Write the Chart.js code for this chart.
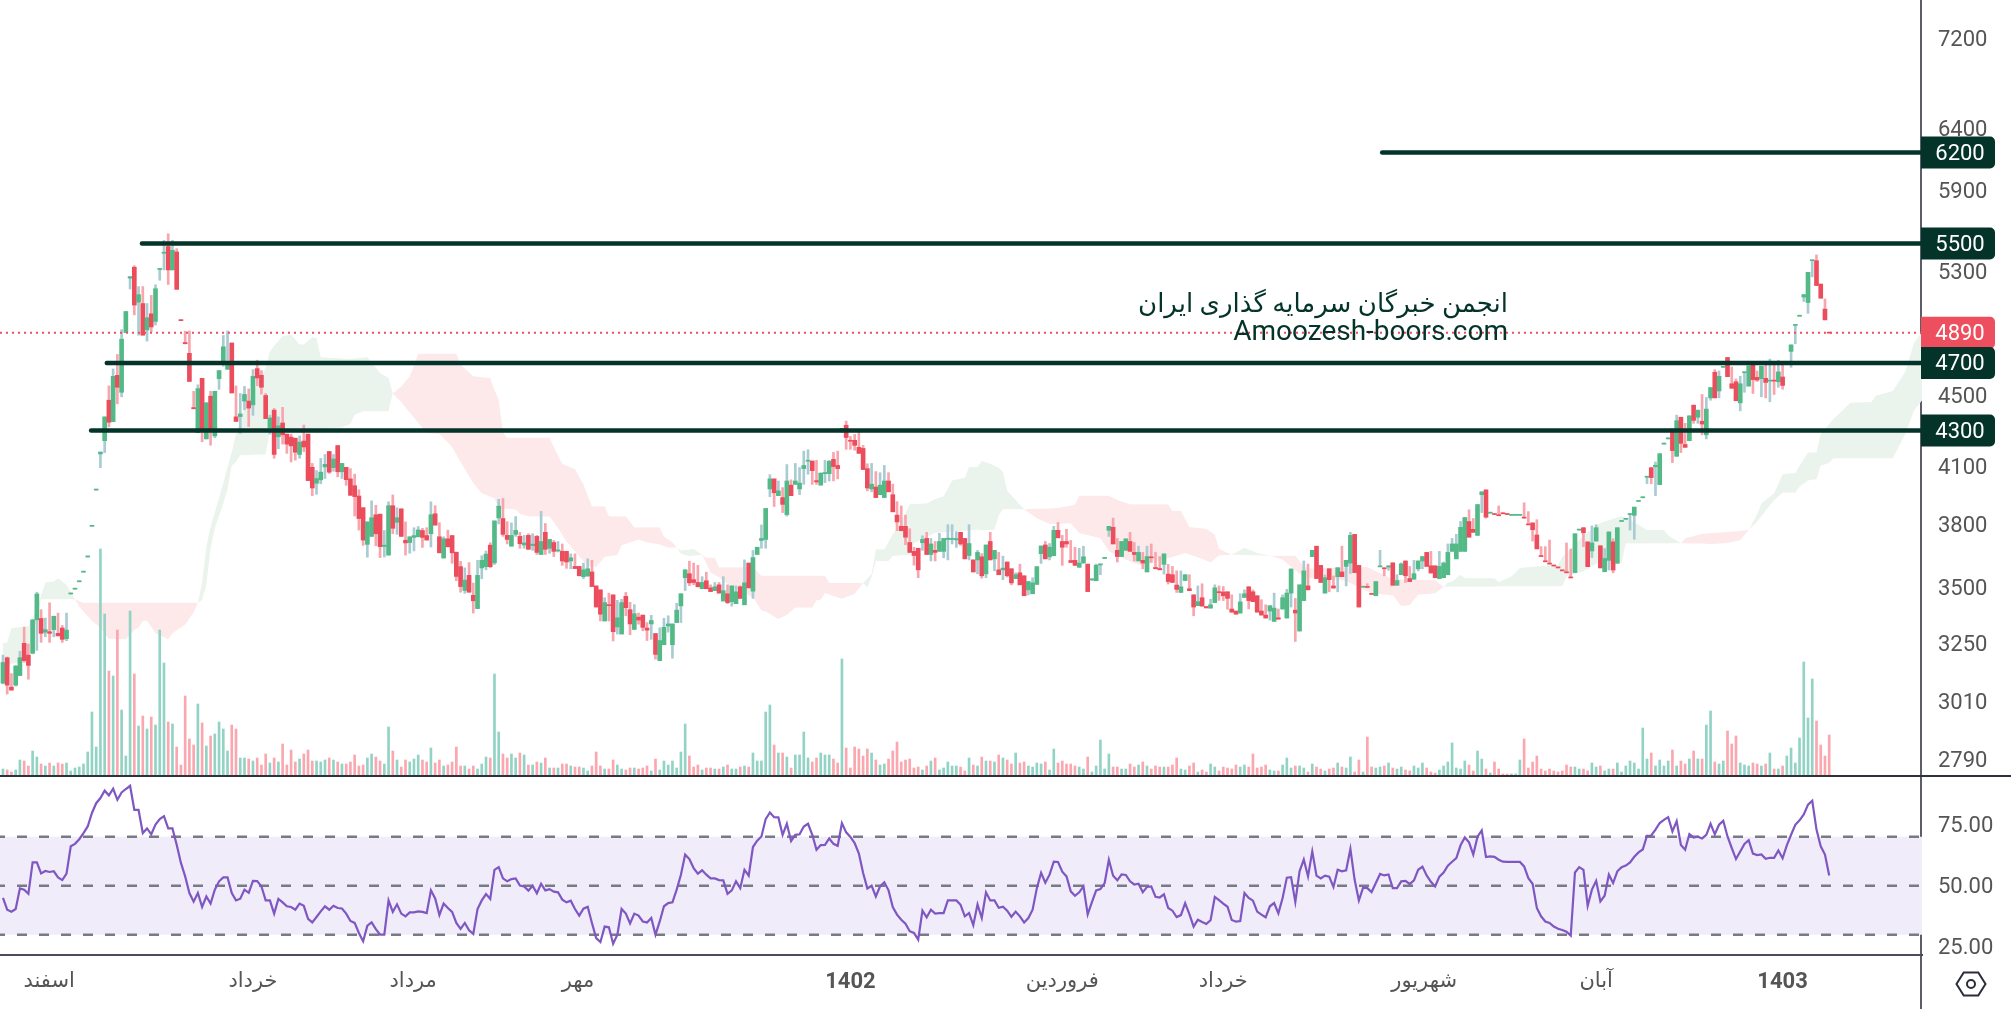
<!DOCTYPE html>
<html lang="fa"><head><meta charset="utf-8">
<script src="https://cdn.jsdelivr.net/npm/chart.js@4"></script>
<style>
html,body{margin:0;padding:0;background:#fff;width:2011px;height:1009px;overflow:hidden}
canvas{position:absolute;left:0}
.rule{position:absolute}
</style></head><body>
<div class="rule" style="left:1920px;top:0;width:2px;height:1009px;background:#5b5e68"></div>
<div class="rule" style="left:0;top:775px;width:2011px;height:2px;background:#2f323c"></div>
<canvas id="main" width="2011" height="775" style="top:0"></canvas>
<canvas id="rsi" width="2011" height="232" style="top:777px"></canvas>
<script>
const opens=[3084,3189,3068,3076,3115,3250,3200,3208,3352,3358,3298,3300,3309,3293,3316,3270,
3468,3490,3524,3569,3641,3791,3976,4170,4243,4475,4351,4624,4522,4892,5255,5331,5091,5082,4909,5014,4964,5315,5430,5478,5312,5439,4973,4828,4760,4432,4288,4606,4253,4499,4270,4604,4705,4661,4825,4378,4380,4470,4470,4448,4665,4624,4503,4315,4417,4265,4343,4280,4263,4257,4167,4241,4280,4097,4012,4030,4099,4183,4095,4216,4073,4097,4035,3999,3945,3885,3702,3741,3849,3852,3692,3650,3895,3811,3879,3722,3711,3736,3739,3770,3745,3754,3854,3739,3636,3729,3745,3664,3595,3484,3554,3462,3402,3589,3595,3698,3613,3833,
3830,3746,3693,3751,3741,3699,3746,3696,3741,3653,3761,3683,3711,3670,3668,3668,3622,3596,3596,3548,3552,3570,3505,3487,3347,3419,3464,3321,3290,3457,3397,3310,3364,3373,3316,3334,3292,3177,3244,3325,3244,3340,3414,3543,3562,3534,3521,3492,3529,3496,3483,3510,3436,3469,3433,3424,3501,3419,3612,3481,3653,3721,3726,3982,4035,3947,3937,3850,4002,4006,3982,4090,4130,4131,4026,4002,4063,4063,4140,4107,4305,4330,4245,4245,4206,4200,4090,3982,3992,3952,3937,4024,3952,3847,3791,3791,3711,3668,3683,3710,3731,3653,3673,3668,3668,3726,3726,3724,3761,3731,3648,3627,3627,3642,3561,3716,3632,3580,
3580,3617,3585,3539,3566,3552,3487,3469,3512,3657,3699,3642,3647,3771,3716,3716,3624,3625,3592,3612,3607,3532,3529,3603,3634,3771,3786,3673,3643,3673,3716,3663,3622,3625,3570,3641,3591,3586,3606,3560,3557,3509,3475,3530,3492,3464,3415,3451,3411,3404,3429,3478,3477,3478,3400,3391,3382,3452,3501,3478,3460,3391,3373,3391,3345,3361,3400,3360,3472,3395,3303,3438,3505,3643,3693,3601,3472,3585,3505,3548,3570,3596,3612,3751,3601,3499,3502,3469,3460,3594,3589,3593,3613,3508,3557,3622,3539,3536,3585,3622,3663,3599,3599,3539,3543,3557,3668,3632,3668,3668,3815,3776,3746,3952,3977,3857,3854,3847,
3858,3852,3846,3846,3846,3836,3802,3808,3748,3647,3622,3611,3602,3593,3579,3570,3546,3567,3772,3784,3714,3670,3718,3695,3571,3625,3714,3611,3815,3826,3850,3846,3917,3936,4044,4095,4100,4005,4224,4253,4308,4157,4376,4222,4243,4446,4376,4353,4276,4489,4643,4530,4673,4734,4573,4585,4460,4640,4559,4690,4612,4604,4606,4589,4593,4585,4614,4702,4772,4938,4998,5126,5089,5377,5377,5214,5045,4892];
const closes=[3169,3076,3056,3154,3189,3177,3157,3352,3468,3293,3309,3293,3368,3282,3267,3307,
3470,3492,3526,3571,3643,3793,3978,4180,4378,4347,4618,4552,4849,5029,5265,5072,5142,4875,4988,4928,5182,5322,5436,5312,5451,5178,4969,4820,4587,4425,4544,4298,4460,4306,4528,4653,4801,4710,4518,4352,4395,4509,4429,4618,4608,4552,4368,4372,4167,4327,4276,4224,4214,4179,4235,4208,4026,3987,4037,4071,4113,4071,4142,4073,4118,4031,3949,3942,3830,3723,3813,3834,3754,3691,3698,3895,3781,3834,3741,3709,3739,3745,3773,3736,3723,3849,3797,3661,3729,3690,3661,3549,3502,3532,3476,3437,3554,3625,3655,3595,3818,3893,
3751,3726,3746,3771,3705,3709,3678,3703,3663,3716,3678,3726,3668,3675,3622,3617,3637,3586,3552,3580,3585,3502,3409,3377,3429,3415,3300,3361,3429,3406,3334,3379,3351,3319,3307,3349,3203,3262,3319,3334,3334,3395,3469,3580,3519,3521,3501,3521,3492,3479,3501,3472,3483,3429,3505,3478,3448,3519,3496,3638,3688,3731,3881,4035,3962,3972,3902,4024,3947,4024,4013,4107,4135,4079,4019,4066,4069,4129,4101,4090,4312,4261,4240,4217,4173,4085,3987,4007,3937,4002,4024,3967,3864,3813,3769,3737,3663,3648,3580,3726,3653,3704,3663,3716,3731,3732,3731,3730,3704,3632,3706,3570,3663,3552,3699,3627,3673,3557,
3588,3552,3519,3557,3510,3460,3525,3519,3595,3694,3632,3688,3771,3734,3688,3704,3615,3601,3612,3642,3479,3538,3602,3608,3639,3791,3704,3643,3716,3729,3668,3653,3663,3612,3643,3637,3585,3580,3656,3525,3521,3489,3501,3557,3483,3409,3433,3413,3405,3419,3496,3474,3460,3448,3386,3377,3432,3469,3438,3433,3386,3373,3360,3415,3404,3355,3451,3472,3584,3382,3510,3575,3487,3673,3539,3521,3543,3534,3495,3590,3548,3625,3746,3567,3409,3503,3498,3466,3525,3598,3585,3599,3508,3530,3608,3552,3525,3562,3622,3643,3596,3565,3543,3596,3612,3663,3704,3704,3786,3835,3737,3761,3901,3967,3837,3860,3850,3844,
3854,3850,3849,3849,3849,3832,3798,3774,3680,3643,3618,3607,3598,3589,3575,3566,3542,3754,3776,3759,3595,3709,3784,3589,3634,3763,3579,3784,3819,3830,3855,3888,3921,3941,4048,4042,4108,4171,4228,4257,4188,4356,4228,4206,4384,4358,4417,4337,4423,4550,4489,4618,4678,4616,4546,4472,4573,4645,4682,4598,4595,4680,4581,4593,4589,4645,4563,4707,4813,4942,5002,5142,5295,5380,5204,5118,4974,4888];
const highs=[3200,3192,3123,3157,3216,3320,3247,3352,3476,3397,3360,3428,3368,3382,3327,3382,
3470,3492,3526,3571,3643,3793,3978,4180,4378,4560,4663,4753,4911,5029,5265,5341,5197,5197,5082,5137,5209,5322,5523,5571,5523,5463,4973,4900,4902,4528,4567,4606,4460,4528,4528,4653,4873,4902,4825,4560,4515,4557,4542,4659,4717,4653,4515,4388,4427,4378,4433,4280,4280,4257,4270,4331,4280,4118,4080,4145,4167,4183,4167,4216,4118,4097,4090,4060,3978,3885,3813,3920,3897,3852,3770,3915,3951,3885,3879,3813,3739,3784,3790,3781,3784,3915,3895,3809,3739,3772,3745,3664,3620,3589,3614,3518,3625,3647,3670,3710,3818,3928,
3932,3814,3808,3840,3761,3746,3754,3754,3746,3866,3805,3726,3721,3716,3704,3668,3656,3656,3596,3612,3632,3625,3505,3487,3451,3472,3464,3439,3444,3475,3430,3420,3382,3373,3340,3372,3292,3317,3359,3370,3334,3426,3469,3580,3621,3612,3601,3548,3569,3510,3521,3521,3548,3510,3505,3505,3505,3627,3612,3672,3688,3798,3881,4057,4035,4024,3989,4112,4030,4118,4096,4185,4193,4131,4135,4066,4135,4135,4178,4185,4312,4354,4267,4278,4289,4217,4116,4118,4074,4068,4107,4068,4007,3916,3894,3847,3779,3688,3683,3744,3761,3731,3716,3756,3731,3799,3799,3764,3761,3731,3799,3627,3673,3657,3699,3761,3673,3663,
3645,3617,3585,3566,3607,3552,3525,3543,3595,3694,3716,3706,3791,3810,3746,3776,3721,3688,3683,3693,3607,3538,3607,3608,3639,3791,3832,3731,3716,3729,3761,3711,3693,3663,3693,3704,3663,3643,3656,3606,3596,3575,3575,3557,3557,3464,3505,3515,3411,3444,3510,3505,3502,3478,3464,3391,3469,3487,3501,3487,3460,3442,3419,3415,3472,3400,3464,3489,3584,3448,3510,3622,3607,3673,3693,3601,3556,3585,3551,3590,3693,3625,3761,3751,3601,3503,3515,3469,3525,3673,3589,3599,3613,3557,3613,3622,3596,3625,3622,3643,3663,3668,3599,3668,3617,3704,3731,3751,3815,3835,3874,3830,3901,3967,3977,3860,3854,3894,
3858,3852,3849,3849,3849,3910,3865,3808,3824,3691,3691,3723,3602,3593,3579,3709,3679,3754,3776,3784,3714,3793,3799,3695,3682,3763,3729,3784,3819,3830,3855,3888,3921,3941,4048,4095,4126,4171,4228,4257,4308,4388,4376,4341,4384,4446,4417,4509,4491,4550,4659,4651,4678,4734,4675,4602,4618,4645,4682,4690,4651,4680,4690,4724,4700,4717,4690,4707,4813,4942,5002,5142,5295,5380,5418,5214,5113,4892];
const lows=[3081,3040,3056,3072,3115,3170,3100,3205,3220,3254,3278,3254,3278,3282,3254,3261,
3468,3490,3524,3569,3641,3791,3976,4095,4177,4321,4351,4454,4495,4892,5180,5007,4875,4875,4837,4897,4940,5240,5312,5211,5312,5178,4969,4820,4587,4425,4288,4237,4253,4218,4260,4540,4680,4661,4518,4352,4284,4419,4323,4387,4561,4511,4368,4280,4146,4198,4224,4173,4126,4136,4146,4183,4026,3947,3954,4009,4037,4064,4076,4046,4037,4001,3947,3843,3772,3697,3640,3741,3695,3638,3641,3650,3754,3751,3741,3650,3659,3670,3739,3687,3723,3689,3797,3661,3636,3690,3611,3529,3476,3471,3476,3382,3402,3538,3580,3590,3605,3803,
3741,3704,3693,3741,3683,3683,3678,3673,3653,3653,3653,3659,3643,3665,3601,3587,3585,3586,3552,3539,3548,3502,3409,3347,3347,3347,3260,3290,3290,3370,3287,3310,3333,3304,3262,3267,3183,3177,3244,3298,3187,3340,3340,3484,3506,3510,3501,3492,3492,3479,3483,3472,3436,3424,3413,3424,3448,3419,3496,3448,3653,3683,3683,3942,3891,3947,3860,3842,3947,4006,3952,4006,4060,4006,4006,4002,4015,4024,4024,4035,4290,4195,4195,4190,4173,4085,3972,3967,3937,3952,3937,3967,3864,3769,3769,3700,3663,3602,3543,3673,3653,3622,3622,3668,3637,3627,3704,3687,3697,3632,3627,3570,3561,3541,3543,3627,3575,3557,
3534,3546,3510,3539,3510,3460,3464,3469,3512,3610,3632,3627,3647,3734,3601,3688,3615,3601,3592,3612,3479,3532,3529,3557,3634,3741,3704,3617,3643,3673,3668,3622,3622,3585,3570,3615,3585,3580,3560,3514,3521,3475,3475,3530,3483,3370,3415,3413,3405,3404,3429,3439,3438,3399,3386,3377,3382,3452,3400,3433,3386,3373,3360,3351,3345,3355,3400,3360,3409,3258,3303,3438,3487,3643,3539,3521,3472,3478,3495,3478,3548,3505,3563,3567,3409,3499,3498,3466,3460,3594,3552,3578,3508,3508,3557,3521,3525,3536,3575,3585,3596,3565,3543,3539,3543,3557,3668,3632,3668,3668,3737,3761,3746,3860,3832,3857,3850,3844,
3854,3850,3846,3846,3846,3832,3798,3718,3680,3643,3618,3607,3598,3589,3575,3566,3542,3567,3772,3691,3595,3638,3718,3589,3571,3579,3566,3611,3815,3826,3772,3727,3917,3936,4010,4010,3947,4005,4224,4253,4122,4157,4177,4206,4243,4341,4341,4276,4253,4475,4489,4489,4673,4616,4546,4472,4413,4522,4559,4515,4587,4495,4489,4466,4509,4552,4540,4702,4673,4820,4998,5096,5017,5264,5204,5118,4974,4888];
const volumes=[6,5,3,5,15,14,9,24,18,11,9,12,9,12,11,12,4,7,8,11,23,63,28,226,161,104,99,145,65,19,164,101,49,59,46,58,50,145,112,53,51,28,10,79,36,30,71,52,29,39,41,53,46,24,50,46,17,17,16,14,17,10,21,12,17,13,31,10,25,13,16,21,25,14,14,13,15,17,15,13,11,11,13,20,9,10,17,21,18,14,11,48,24,15,8,15,13,16,20,15,13,27,12,15,9,10,13,28,9,9,6,9,6,11,18,17,101,43,
21,17,21,17,22,20,10,10,13,12,17,7,7,7,11,11,9,8,8,7,4,9,23,9,6,6,15,10,6,5,7,7,6,7,9,4,16,5,14,10,14,7,23,51,19,8,10,5,7,7,6,6,8,10,6,6,8,9,8,22,14,14,63,70,30,22,22,18,7,20,20,43,17,13,17,22,20,20,16,12,116,27,7,28,26,19,26,22,15,10,11,16,24,33,13,15,16,7,8,5,9,14,17,5,7,13,9,9,8,4,17,10,9,18,14,14,13,20,
17,15,11,22,12,13,9,8,12,11,13,5,26,12,14,11,11,9,8,6,18,3,9,35,6,21,8,8,6,6,11,8,10,13,9,6,9,8,8,8,10,17,6,5,9,12,3,5,3,11,8,4,8,7,6,10,8,10,8,21,7,8,10,5,4,4,10,17,7,9,9,7,3,11,8,6,4,6,7,12,8,7,18,3,15,3,38,8,7,8,9,12,7,6,8,5,4,9,7,12,7,3,2,5,9,13,32,7,6,14,10,4,24,16,6,2,13,6,
1,1,1,1,15,36,7,13,19,6,4,6,4,3,4,10,8,8,6,6,4,12,8,9,4,6,6,12,3,9,14,12,6,47,16,22,9,15,9,14,25,9,14,11,16,24,16,16,50,64,13,11,14,44,31,39,12,10,9,12,11,9,11,22,6,6,9,19,27,12,37,113,57,96,54,30,19,40];
const rsiValues=[45.0,40.2,39.4,40.5,48.9,48.4,46.7,59.5,59.5,55.0,56.0,55.6,55.9,53.4,52.3,54.9,66.1,67.1,69.0,71.5,74.2,79.7,83.7,85.8,88.8,86.9,89.6,85.1,88.1,89.5,90.8,81.0,81.0,71.5,73.4,71.0,75.0,77.2,78.4,73.4,73.4,66.7,59.3,53.8,47.0,43.5,47.0,41.3,45.6,42.7,48.4,51.8,53.4,53.4,47.0,44.0,44.7,48.4,47.1,52.0,51.9,49.7,44.0,44.0,38.6,44.6,43.2,41.6,41.3,40.2,42.7,41.8,36.5,35.0,37.2,39.5,41.6,40.2,41.8,40.9,40.7,38.6,35.6,34.8,30.7,27.3,33.7,35.0,32.3,30.0,30.0,44.0,39.3,42.4,38.6,37.5,39.1,39.1,39.5,39.3,38.8,48.1,44.8,38.0,42.7,40.9,39.3,34.8,32.4,34.8,31.8,
30.3,40.5,44.0,46.6,44.6,56.5,57.6,53.0,51.8,52.7,53.0,50.1,49.7,48.0,50.0,46.9,50.8,48.1,48.6,47.6,47.3,44.3,43.2,43.9,40.5,37.8,40.6,41.4,34.8,28.6,27.0,33.3,33.0,26.3,30.0,40.5,38.6,34.6,38.6,37.8,35.4,35.0,36.8,30.0,35.4,41.6,42.9,43.2,48.4,54.5,62.7,60.9,57.2,54.9,56.3,54.5,53.0,53.0,52.3,52.2,46.7,48.1,51.8,49.0,56.5,54.1,65.8,68.4,70.1,77.2,79.9,78.0,77.9,70.8,75.3,68.2,70.8,71.0,74.2,75.3,70.8,64.7,66.6,66.7,69.3,67.1,66.3,75.6,71.8,69.9,67.4,63.1,55.2,48.9,50.0,45.6,49.7,51.4,48.1,41.3,38.2,36.1,34.5,31.4,30.7,28.0,39.8,37.1,40.2,38.6,
38.8,38.8,44.0,44.0,44.0,42.2,37.5,38.8,33.9,42.4,36.8,47.3,44.0,44.0,41.0,41.4,39.8,37.3,39.4,37.5,35.0,36.8,40.2,49.0,55.3,51.2,54.5,59.8,59.7,55.7,53.8,47.7,45.9,47.3,49.7,38.3,43.3,48.1,48.6,51.1,60.6,54.1,52.2,54.6,54.4,51.8,50.5,50.8,47.3,49.5,49.7,45.5,45.2,46.5,40.9,39.8,37.2,38.0,42.9,38.4,33.3,36.1,35.2,34.4,35.9,45.4,44.1,42.7,41.4,36.0,35.3,35.6,47.0,45.0,43.9,39.4,38.2,37.1,41.6,42.9,38.7,45.0,53.3,53.5,43.3,55.9,60.7,53.8,64.0,54.1,53.0,54.1,53.7,49.5,56.5,55.9,56.3,65.0,52.4,44.0,49.2,49.0,47.4,51.1,54.8,54.2,54.6,49.0,49.0,51.8,
52.0,50.7,52.2,56.5,57.8,54.2,51.6,49.7,53.7,55.4,58.2,59.8,61.3,66.5,69.7,67.7,62.7,70.0,72.6,61.7,62.0,61.8,60.6,59.8,59.7,59.7,59.7,59.7,57.9,53.1,50.8,40.9,37.5,35.4,34.8,33.3,32.4,31.9,31.2,29.6,55.4,57.6,56.5,41.8,48.4,52.0,43.6,45.9,54.5,51.1,55.9,57.6,58.2,59.5,61.8,63.6,64.8,70.4,70.5,72.9,75.6,76.9,78.0,72.2,76.4,66.6,64.7,71.1,69.7,70.0,69.3,70.8,75.3,71.0,74.9,76.5,70.1,65.4,60.9,64.0,67.1,68.6,63.1,62.5,62.8,61.0,61.4,61.4,64.4,61.2,66.5,70.8,74.9,76.7,79.1,83.1,84.7,72.9,66.1,62.7,54.2];
const spanAIdx=[0,1,2,6,8,10,12,13,15,17,18,21,23,25,29,31,32,33,34,36,39,40,43,45,46,47,48,49,50,52,54,55,57,59,62,63,64,66,68,70,71,73,74,75,82,86,89,91,92,94,96,100,103,106,108,111,113,116,117,121,122,124,129,131,133,135,138,140,142,145,146,150,152,155,157,159,160,163,165,167,169,172,177,179,180,183,185,187,191,192,193,194,198,200,201,203,205,206,208,210,212,214,218,220,222,224,227,228,230,231,233,235,236,237,241,244,247,252,254,259,261,266,269,274,275,279,283,285,287,290,293,296,299,302,307,314,317,323,328,330,332,334,338,340,341,342,344,345,352,353,356,358,361,367,368,373,377,382,386,388,392,393,396,401,403,407,410,412,414,415,418,420,423,424,426,428,429,432,436,441,442,446,449,451,453];
const spanAVals=[3251,3254,3316,3324,3402,3521,3526,3541,3510,3444,3410,3348,3317,3270,3267,3309,3317,3348,3348,3293,3267,3293,3332,3386,3428,3520,3690,3790,3861,4013,4180,4280,4423,4525,4669,4772,4808,4868,4880,4815,4815,4861,4856,4736,4724,4736,4639,4608,4515,4464,4403,4286,4280,4208,4126,4013,3960,3933,3882,3876,3854,3842,3840,3782,3716,3669,3598,3593,3642,3651,3698,3726,3712,3701,3687,3687,3672,3679,3652,3567,3545,3499,3454,3393,3389,3356,3374,3407,3407,3439,3442,3472,3446,3461,3469,3519,3560,3677,3677,3751,3814,3903,3906,3930,3943,4026,4041,4098,4098,4131,4116,4094,4072,3972,3877,3831,3803,3806,3758,3732,3669,3619,3598,3632,3635,3660,3632,3615,3649,3652,3686,3660,3647,3629,3544,3536,3528,3471,3462,3414,3418,3464,3471,3501,3521,3525,3557,3541,3541,3523,3549,3589,3595,3604,3640,3745,3808,3843,3799,3772,3772,3745,3708,3706,3704,3709,3723,3772,3852,3906,3960,4060,4066,4105,4177,4177,4280,4366,4460,4464,4501,4530,4649,4825,4900];
const spanBIdx=[0,1,4,7,9,17,19,46,47,48,49,50,52,53,54,55,56,62,63,68,80,82,83,85,91,92,94,96,98,107,108,111,115,116,117,118,119,129,130,132,135,137,139,142,143,147,149,155,156,158,159,160,162,165,166,168,169,177,179,194,195,203,204,205,206,209,210,214,215,220,230,231,234,235,236,241,248,251,253,254,261,263,266,275,276,278,280,284,286,287,290,299,305,307,308,322,328,338,340,352,353,368,369,373,377,382,383,396,397,401,407,412,414,418,420,423,424,426,428,429,431,432,446,449,451,453];
const spanBVals=[3177,3161,3169,3270,3444,3444,3428,3428,3440,3510,3680,3780,3906,3978,4105,4126,4163,4167,4296,4296,4317,4337,4390,4411,4411,4515,4557,4618,4758,4758,4690,4618,4608,4536,4479,4291,4260,4260,4208,4116,4088,4005,3892,3892,3842,3842,3786,3786,3741,3712,3687,3657,3644,3652,3637,3637,3592,3592,3552,3552,3519,3519,3496,3545,3622,3622,3646,3652,3707,3758,3774,3771,3774,3845,3877,3877,3882,3891,3901,3947,3947,3925,3903,3903,3868,3868,3787,3779,3749,3681,3652,3647,3647,3598,3586,3593,3536,3531,3501,3501,3503,3503,3549,3573,3620,3611,3706,3708,3732,3754,3763,3772,3815,3923,3962,3962,3994,4026,4033,4105,4120,4146,4146,4280,4413,4476];
const levelPrices=[4300,4700,5500,6200];
const levelStarts=[20.8,24.5,32.8,325.5];
const lastPrice=4890;
const priceTicks=[7200,6400,5900,5300,4500,4100,3800,3500,3250,3010,2790];
const rsiTicks=[75,50,25];
const rsiLevels=[70,50,30];
const monthTicks=[10.9,59,96.8,135.7,200,250,288,335.4,376,420];
const monthLabels=['اسفند','خرداد','مرداد','مهر','1402','فروردین','خرداد','شهریور','آبان','1403'];
const watermark=['انجمن خبرگان سرمایه گذاری ایران','Amoozesh-boors.com'];

const xMin=-0.7,xMax=452.9,DARK='#04332a',RED='#ee4f5f';
const GREEN_BODY='#53b987',RED_BODY='#eb4d5c',GREEN_WICK='#a9cbd2',RED_WICK='#f8a5ae',GREEN_VOL='#92d3c5',RED_VOL='#faa7af';
const up=i=>closes[i]>=opens[i];
const idx=opens.map((_,i)=>i);
const fixW=s=>{s.width=89;s.paddingTop=0;s.paddingBottom=0};
const tags=[{v:6200,c:DARK},{v:5500,c:DARK},{v:4890,c:RED},{v:4700,c:DARK},{v:4300,c:DARK}];

const overlay={id:'overlay',afterDraw(c){
  const ctx=c.ctx,y=c.scales.y;
  ctx.save();
  ctx.textAlign='right';ctx.textBaseline='middle';ctx.fillStyle=DARK;
  ctx.font='26px Roboto,"DejaVu Sans"';
  ctx.fillText(watermark[0],1508,305);
  ctx.font='28px Roboto,"DejaVu Sans"';
  ctx.fillText(watermark[1],1508,333);
  tags.forEach(t=>{const p=y.getPixelForValue(t.v);
    ctx.fillStyle=t.c;ctx.beginPath();ctx.roundRect(1921,p-16,74,32,[0,5,5,0]);ctx.fill();
    ctx.fillStyle='#fff';ctx.textAlign='center';ctx.font='22px Roboto';ctx.fillText(String(t.v),1960,p+2);});
  ctx.restore();
}};

new Chart(document.getElementById('main'),{
  type:'bar',
  data:{datasets:[
    {type:'line',label:'Span A',data:spanAIdx.map((x,i)=>({x,y:spanAVals[i]})),yAxisID:'y',pointRadius:0,borderWidth:0,tension:0,order:20,fill:{target:1,above:'#eaf4ec',below:'#fde8ea'}},
    {type:'line',label:'Span B',data:spanBIdx.map((x,i)=>({x,y:spanBVals[i]})),yAxisID:'y',pointRadius:0,borderWidth:0,tension:0,order:21},
    {label:'Volume',data:idx.map(i=>({x:i,y:volumes[i]})),yAxisID:'yVol',barThickness:2,grouped:false,backgroundColor:idx.map(i=>up(i)?GREEN_VOL:RED_VOL),order:15},
    {label:'Wicks',data:idx.map(i=>({x:i,y:[lows[i],highs[i]]})),yAxisID:'y',barThickness:2,grouped:false,minBarLength:1,backgroundColor:idx.map(i=>up(i)?GREEN_WICK:RED_WICK),order:10},
    {label:'Bodies',data:idx.map(i=>({x:i,y:[Math.min(opens[i],closes[i]),Math.max(opens[i],closes[i])]})),yAxisID:'y',barThickness:4,grouped:false,minBarLength:1,backgroundColor:idx.map(i=>up(i)?GREEN_BODY:RED_BODY),order:9},
    {type:'line',label:'Last',data:[{x:xMin,y:lastPrice},{x:xMax,y:lastPrice}],yAxisID:'y',pointRadius:0,borderWidth:2,borderColor:RED,borderDash:[2,4],order:5},
    ...levelPrices.map((v,k)=>({type:'line',label:'L'+v,data:[{x:levelStarts[k],y:v},{x:xMax,y:v}],yAxisID:'y',pointRadius:0,borderWidth:4.5,borderColor:DARK,borderCapStyle:'round',order:3}))
  ]},
  options:{responsive:false,animation:false,devicePixelRatio:1,layout:{padding:0},
    plugins:{legend:{display:false},tooltip:{enabled:false}},
    scales:{
      x:{type:'linear',min:xMin,max:xMax,offset:false,display:false},
      y:{type:'logarithmic',position:'right',min:2733,max:7577,afterFit:fixW,
        afterBuildTicks:s=>{s.ticks=priceTicks.map(value=>({value}))},
        grid:{display:false,drawTicks:false},border:{display:false},
        ticks:{autoSkip:false,padding:16,labelOffset:2,crossAlign:'near',color:'#555',font:{family:'Roboto',size:22},callback:v=>String(v)}},
      yVol:{type:'linear',display:false,min:0,max:775,position:'left'}
    }},
  plugins:[overlay]
});

const hexIcon={id:'hexIcon',afterDraw(c){
  const ctx=c.ctx,cx=1971,cy=207,r=14.5;
  ctx.save();ctx.strokeStyle='#2a2e39';ctx.lineWidth=2;ctx.beginPath();
  for(let k=0;k<6;k++){const a=k*Math.PI/3;const px=cx+r*Math.cos(a),py=cy+r*0.92*Math.sin(a);k?ctx.lineTo(px,py):ctx.moveTo(px,py);}
  ctx.closePath();ctx.stroke();ctx.beginPath();ctx.arc(cx,cy,4,0,Math.PI*2);ctx.stroke();ctx.restore();
}};
const isYear=v=>/^\d/.test(monthLabels[monthTicks.indexOf(v)]||'');

new Chart(document.getElementById('rsi'),{
  type:'line',
  data:{datasets:[
    {label:'band top',data:[{x:xMin,y:rsiLevels[0]},{x:xMax,y:rsiLevels[0]}],pointRadius:0,borderWidth:0,fill:{target:1},backgroundColor:'#f0ecf9',order:20},
    {label:'band bottom',data:[{x:xMin,y:rsiLevels[2]},{x:xMax,y:rsiLevels[2]}],pointRadius:0,borderWidth:0,order:21},
    ...rsiLevels.map(v=>({label:'L'+v,data:[{x:xMin,y:v},{x:xMax,y:v}],pointRadius:0,borderWidth:2.5,borderColor:'#787b86',borderDash:[10,12],borderDashOffset:5,order:10})),
    {label:'RSI',data:idx.map(i=>({x:i,y:rsiValues[i]})),pointRadius:0,borderWidth:2.2,borderColor:'#7e57c2',tension:0,order:1}
  ]},
  options:{responsive:false,animation:false,devicePixelRatio:1,layout:{padding:0},
    plugins:{legend:{display:false},tooltip:{enabled:false}},
    scales:{
      x:{type:'linear',min:xMin,max:xMax,offset:false,
        afterBuildTicks:s=>{s.ticks=monthTicks.map(value=>({value}))},
        afterFit:s=>{s.height=54},
        grid:{display:false,drawTicks:false},border:{display:true,color:'#4a4d57',width:2},
        ticks:{autoSkip:false,maxRotation:0,padding:14,color:'#555',
          font:c=>{const y=c.tick&&isYear(c.tick.value);return {family:'Roboto,"DejaVu Sans"',size:y?22:21,weight:y?'bold':'normal'}},
          callback:v=>monthLabels[monthTicks.indexOf(v)]}},
      y:{type:'linear',position:'right',min:21.7,max:94.4,afterFit:fixW,
        afterBuildTicks:s=>{s.ticks=rsiTicks.map(value=>({value}))},
        grid:{display:false,drawTicks:false},border:{display:false},
        ticks:{autoSkip:false,padding:16,labelOffset:2,crossAlign:'near',color:'#555',font:{family:'Roboto',size:22},callback:v=>v.toFixed(2)}}
    }},
  plugins:[hexIcon]
});
</script>
</body></html>
